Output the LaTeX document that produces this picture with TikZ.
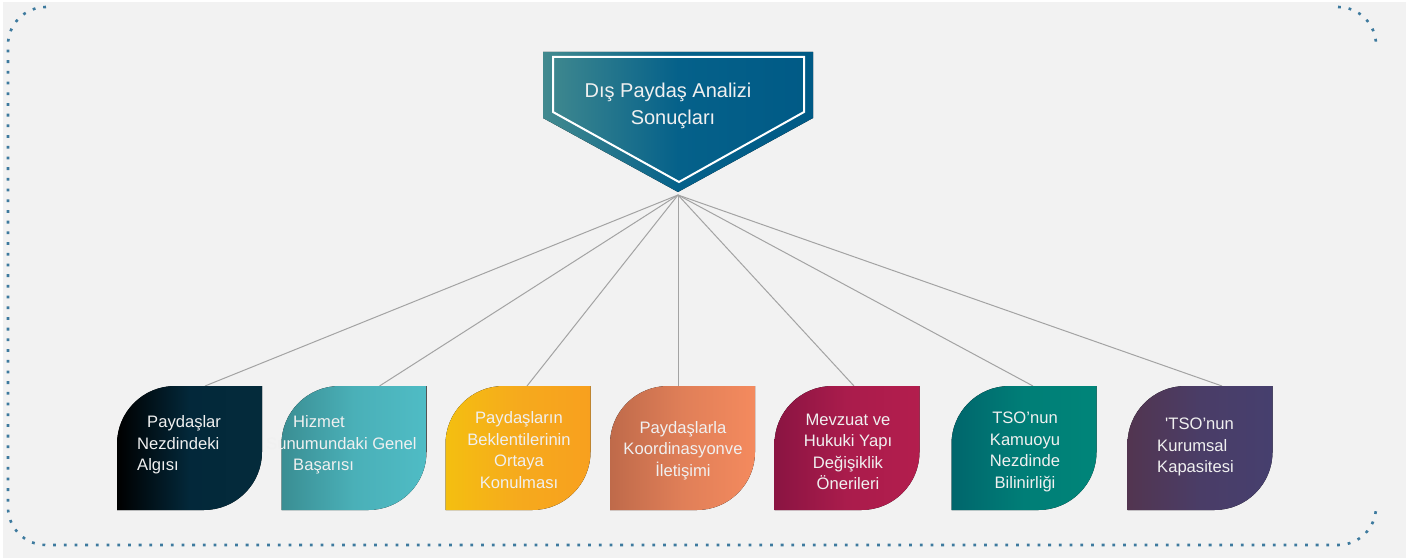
\documentclass[tikz,border=0pt]{standalone}
\usepackage{fontspec}
\setmainfont{Liberation Sans}

\definecolor{bggray}{HTML}{F2F2F2}
\definecolor{dotblue}{HTML}{3D7A9E}
\definecolor{linkgray}{HTML}{A3A3A3}
\definecolor{txt}{HTML}{F0F0F0}
\definecolor{titleL}{HTML}{428A8F}
\definecolor{titleM}{HTML}{05618A}
\definecolor{titleR}{HTML}{005A86}
% leaf colours: left / middle / right
\definecolor{aL}{HTML}{000000}\definecolor{aM}{HTML}{03283A}\definecolor{aR}{HTML}{042B3B}
\definecolor{bL}{HTML}{3A8E93}\definecolor{bM}{HTML}{4AB0B8}\definecolor{bR}{HTML}{4FBCC5}
\definecolor{cL}{HTML}{F4BF10}\definecolor{cM}{HTML}{F6AA1D}\definecolor{cR}{HTML}{F8A01E}
\definecolor{dL}{HTML}{BF6A4A}\definecolor{dM}{HTML}{E07F58}\definecolor{dR}{HTML}{F48A5E}
\definecolor{eL}{HTML}{8A1442}\definecolor{eM}{HTML}{AA1C4C}\definecolor{eR}{HTML}{B31D4D}
\definecolor{fL}{HTML}{00666C}\definecolor{fM}{HTML}{007E77}\definecolor{fR}{HTML}{008579}
\definecolor{gL}{HTML}{523550}\definecolor{gM}{HTML}{4A3D67}\definecolor{gR}{HTML}{463F6E}

% round-diagonal-corner fill over a placed node
\newcommand\leaffill[4]{%
  \fill[left color=#2, right color=#4, middle color=#3]
    (#1.south west) -- ([yshift=-58pt]#1.north west)
    .. controls +(0pt,32pt) and +(-32pt,0pt) .. ([xshift=58pt]#1.north west)
    -- (#1.north east) -- ([yshift=58pt]#1.south east)
    .. controls +(0pt,-32pt) and +(32pt,0pt) .. ([xshift=-58pt]#1.south east)
    -- cycle;}

\begin{document}
\begin{tikzpicture}[x=1pt,y=-1pt,
  leafnode/.style={minimum width=145pt,minimum height=124pt,inner sep=0pt,outer sep=0pt},
  boxtext/.style={text=txt,font=\fontsize{16.6}{21.5}\selectfont,inner sep=0pt},
  titletext/.style={text=txt,font=\fontsize{20}{27}\selectfont,inner sep=0pt,align=center},
  link/.style={draw=linkgray,line width=1pt},
  dots/.style={draw=dotblue,line width=2.6pt,dash pattern=on 2.8pt off 7.9pt}
]
\useasboundingbox (0,0) rectangle (1417,559);
\fill[white] (0,0) rectangle (1417,559);
\fill[bggray] (3,2) rectangle (1406,558);

% dotted frame (open at top and right)
\draw[dots] (1338,7) .. controls (1359,7) and (1376,24) .. (1376,45);
\draw[dots] (46,7) .. controls (25,7) and (8,24) .. (8,45) -- (8,507)
  .. controls (8,528) and (25,545) .. (46,545) -- (1338,545)
  .. controls (1359,545) and (1376,528) .. (1376,507);

% boxes
\node[leafnode] (b1) at (189.5,448) {};
\node[leafnode] (b2) at (354,448) {};
\node[leafnode] (b3) at (518,448) {};
\node[leafnode] (b4) at (682.5,448) {};
\node[leafnode] (b5) at (847,448) {};
\node[leafnode] (b6) at (1024,448) {};
\node[leafnode] (b7) at (1200,448) {};

% connectors
\coordinate (tip) at (678,195);
\draw[link] (tip) -- ([xshift=15.5pt]b1.north);
\draw[link] (tip) -- ([xshift=25.5pt]b2.north);
\draw[link] (tip) -- ([xshift=9pt]b3.north);
\draw[link] (tip) -- ([xshift=-4.5pt]b4.north);
\draw[link] (tip) -- ([xshift=7pt]b5.north);
\draw[link] (tip) -- ([xshift=9pt]b6.north);
\draw[link] (tip) -- ([xshift=22pt]b7.north);

% title pentagon
\fill[left color=titleL, right color=titleR, middle color=titleM]
  (543,52) -- (813,52) -- (813,118) -- (678,192) -- (543,118) -- cycle;
\draw[white, line width=2pt, line join=miter]
  (553,57) -- (804,57) -- (804,112) -- (679,182) -- (553,112) -- cycle;
\node[titletext] (title) at (673,106) {Dış Paydaş Analizi\hspace*{10pt}\\Sonuçları};

\leaffill{b1}{aL}{aM}{aR}
\leaffill{b2}{bL}{bM}{bR}
\leaffill{b3}{cL}{cM}{cR}
\leaffill{b4}{dL}{dM}{dR}
\leaffill{b5}{eL}{eM}{eR}
\leaffill{b6}{fL}{fM}{fR}
\leaffill{b7}{gL}{gM}{gR}

% labels
\node[boxtext, align=left, anchor=west] (t1) at (137,445)
  {\hspace*{10pt}Paydaşlar\\Nezdindeki\\Algısı};
\node[boxtext, align=left, anchor=west] (t2) at (266,445)
  {\hspace*{27pt}Hizmet\\Sunumundaki Genel\\\hspace*{27pt}Başarısı};
\node[boxtext, align=center] (t3) at (519,450)
  {Paydaşların\\Beklentilerinin\\Ortaya\\Konulması};
\node[boxtext, align=center] (t4) at (683,450.5)
  {Paydaşlarla\\Koordinasyonve\\İletişimi};
\node[boxtext, align=center] (t5) at (848,452)
  {Mevzuat ve\\Hukuki Yapı\\Değişiklik\\Önerileri};
\node[boxtext, align=center] (t6) at (1025,452)
  {TSO’nun\\Kamuoyu\\Nezdinde\\Bilinirliği};
\node[boxtext, align=left, anchor=west] (t7) at (1157,447)
  {\hspace*{8pt}\textquotesingle TSO’nun\\Kurumsal\\Kapasitesi};
\end{tikzpicture}
\end{document}
